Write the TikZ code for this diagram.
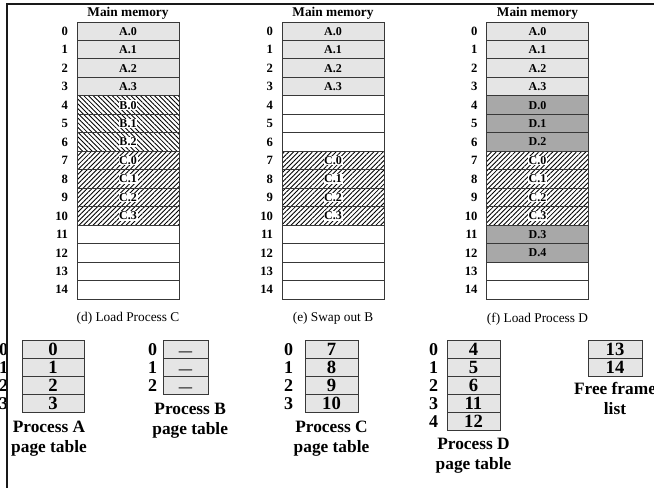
\documentclass[tikz,border=0pt]{standalone}
\usepackage{fontspec}
\setmainfont{Liberation Serif}
\usetikzlibrary{positioning,patterns.meta}

\definecolor{lightcell}{gray}{0.90}
\definecolor{darkcell}{gray}{0.66}
\definecolor{edgegray}{gray}{0.22}

\tikzset{
  cell/.style={draw=edgegray, line width=0.7pt, minimum width=76.5pt, minimum height=13.85pt,
    inner sep=0, outer sep=0},
  memA/.style={cell, fill=lightcell},
  memD/.style={cell, fill=darkcell},
  memE/.style={cell, fill=white},
  memB/.style={cell, pattern={Lines[angle=-45,distance=2.5pt,line width=0.65pt]}},
  memC/.style={cell, pattern={Lines[angle=45,distance=2.5pt,line width=0.65pt]}},
  celltxt/.style={inner sep=0, font=\bfseries\fontsize{9}{9}\selectfont},
  hatchtxt/.style={celltxt, fill=white, inner sep=0.5pt},
  rownum/.style={inner sep=0, outer sep=0, font=\bfseries\fontsize{9.5}{9.5}\selectfont},
  memtitle/.style={inner sep=0, font=\bfseries\fontsize{10}{10}\selectfont},
  memcap/.style={inner sep=0, font=\fontsize{10}{10}\selectfont},
  ptab/.style={draw=edgegray, line width=0.7pt, fill=lightcell, minimum height=13.43pt,
    text height=9.5pt, text depth=0pt,
    inner sep=0, outer sep=0, font=\bfseries\fontsize{14}{14}\selectfont},
  ptnum/.style={inner sep=0, outer sep=0, font=\bfseries\fontsize{13.5}{13.5}\selectfont},
  ptname/.style={inner sep=0, align=center, font=\bfseries\fontsize{13}{15}\selectfont}
}

\begin{document}
\begin{tikzpicture}[x=0.75pt, y=-0.75pt]

    \useasboundingbox (0,0) rectangle (654,488);

    % Memory rows
    \def\memtop{22}
    \def\rh{18.47}

    % (d) Load Process C
    \foreach \t/\s/\l [count=\i from 0] in {A.0/memA/celltxt,A.1/memA/celltxt,A.2/memA/celltxt,A.3/memA/celltxt,
        B.0/memB/hatchtxt,B.1/memB/hatchtxt,B.2/memB/hatchtxt,C.0/memC/hatchtxt,C.1/memC/hatchtxt,C.2/memC/hatchtxt,C.3/memC/hatchtxt,
        /memE/celltxt,/memE/celltxt,/memE/celltxt,/memE/celltxt}
    {
        \node[\s, label={[\l]center:\t}] (d\i) at (128,\memtop+\rh*\i+\rh/2) {};
        \node[rownum, left=6.75pt of d\i] (dn\i) {\i};
    }
    \node[memtitle, above=2pt of d0] (dtitle) {Main memory};
    \node[memcap, below=10pt of d14] (dcap) {(d) Load Process C};

    % (e) Swap out B
    \foreach \t/\s/\l [count=\i from 0] in {A.0/memA/celltxt,A.1/memA/celltxt,A.2/memA/celltxt,A.3/memA/celltxt,
        /memE/celltxt,/memE/celltxt,/memE/celltxt,C.0/memC/hatchtxt,C.1/memC/hatchtxt,C.2/memC/hatchtxt,C.3/memC/hatchtxt,
        /memE/celltxt,/memE/celltxt,/memE/celltxt,/memE/celltxt}
    {
        \node[\s, label={[\l]center:\t}] (e\i) at (333,\memtop+\rh*\i+\rh/2) {};
        \node[rownum, left=6.75pt of e\i] (en\i) {\i};
    }
    \node[memtitle, above=2pt of e0] (etitle) {Main memory};
    \node[memcap, below=10pt of e14] (ecap) {(e) Swap out B};

    % (f) Load Process D
    \foreach \t/\s/\l [count=\i from 0] in {A.0/memA/celltxt,A.1/memA/celltxt,A.2/memA/celltxt,A.3/memA/celltxt,
        D.0/memD/celltxt,D.1/memD/celltxt,D.2/memD/celltxt,C.0/memC/hatchtxt,C.1/memC/hatchtxt,C.2/memC/hatchtxt,C.3/memC/hatchtxt,
        D.3/memD/celltxt,D.4/memD/celltxt,/memE/celltxt,/memE/celltxt}
    {
        \node[\s, label={[\l]center:\t}] (f\i) at (537.5,\memtop+\rh*\i+\rh/2) {};
        \node[rownum, left=6.75pt of f\i] (fn\i) {\i};
    }
    \node[memtitle, above=2pt of f0] (ftitle) {Main memory};
    \node[memcap, below=10pt of f14] (fcap) {(f) Load Process D};

    % Page tables
    \def\ptop{340.7}
    \def\ph{17.9}

    \foreach \t [count=\i from 0] in {0,1,2,3}
    {
        \node[ptab, minimum width=46.5pt] (pa\i) at (53,\ptop+\ph*\i+\ph/2) {\t};
        \node[ptnum, left=10.5pt of pa\i] (pan\i) {\i};
    }
    \node[ptname, below=6pt of pa3, xshift=-3pt] (paname) {Process A\\page table};

    \foreach \i in {0,1,2}
    {
        \node[ptab, minimum width=33.75pt] (pb\i) at (185.5,\ptop+\ph*\i+\ph/2) {\fontsize{10}{10}\selectfont\textemdash};
        \node[ptnum, left=4.5pt of pb\i] (pbn\i) {\i};
    }
    \node[ptname, below=6pt of pb2, xshift=3.5pt] (pbname) {Process B\\page table};

    \foreach \t [count=\i from 0] in {7,8,9,10}
    {
        \node[ptab, minimum width=39.75pt] (pc\i) at (331.5,\ptop+\ph*\i+\ph/2) {\t};
        \node[ptnum, left=9pt of pc\i] (pcn\i) {\i};
    }
    \node[ptname, below=6pt of pc3] (pcname) {Process C\\page table};

    \foreach \t [count=\i from 0] in {4,5,6,11,12}
    {
        \node[ptab, minimum width=39.75pt] (pd\i) at (473.5,\ptop+\ph*\i+\ph/2) {\t};
        \node[ptnum, left=6.75pt of pd\i] (pdn\i) {\i};
    }
    \node[ptname, below=6pt of pd4] (pdname) {Process D\\page table};

    % Free frame list
    \foreach \t [count=\i from 0] in {13,14}
        \node[ptab, minimum width=40.5pt] (fl\i) at (615,\ptop+\ph*\i+\ph/2) {\t};
    \node[ptname, below=4pt of fl1] (flname) {Free frame\\list};

    % Frame
    \draw[line width=1.5pt, black!90] (654,4.5) -| (7,488);

\end{tikzpicture}
\end{document}
